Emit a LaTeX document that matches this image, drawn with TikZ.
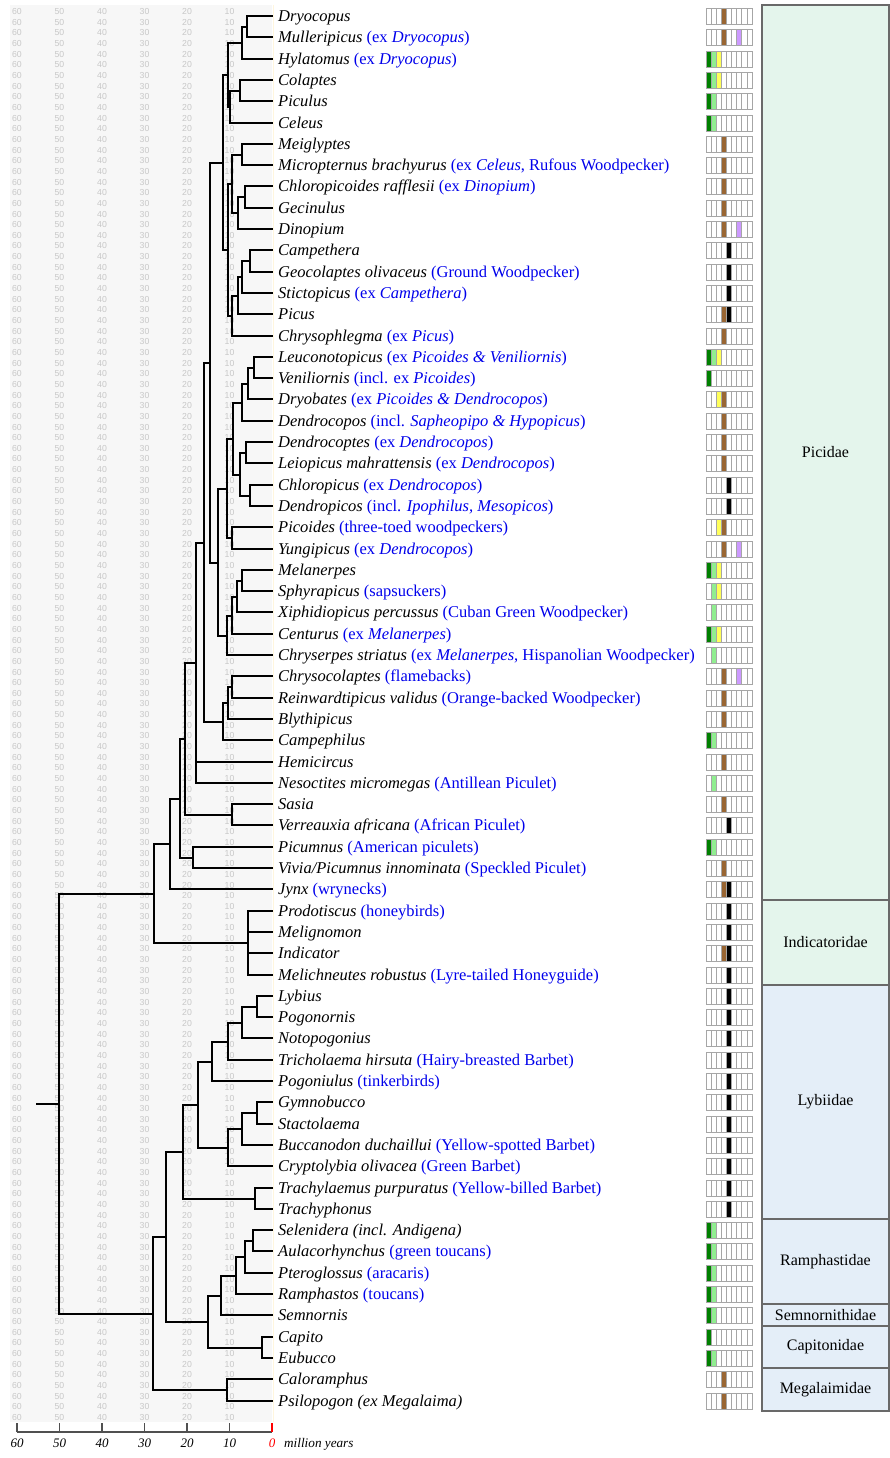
\documentclass[tikz,border=0pt]{standalone}
\usepackage{fontspec}
\setmainfont{Liberation Serif}
\newfontfamily\numfont{Liberation Sans}
\usetikzlibrary{calc}
\definecolor{tblue}{RGB}{0,0,235}
\definecolor{bggray}{RGB}{247,247,247}
\definecolor{numgray}{RGB}{200,200,200}
\definecolor{mint}{RGB}{228,245,236}
\definecolor{pale}{RGB}{228,238,248}
\definecolor{cellc1}{RGB}{0,128,0}
\definecolor{cellc2}{RGB}{144,238,144}
\definecolor{cellc3}{RGB}{255,255,90}
\definecolor{cellc4}{RGB}{153,102,51}
\definecolor{cellc5}{RGB}{0,0,0}
\definecolor{cellc7}{RGB}{204,153,255}
\definecolor{famline}{RGB}{105,105,105}
\definecolor{cream}{RGB}{255,246,222}
\definecolor{axisgray}{RGB}{80,80,80}
\newcommand\bl[1]{\textcolor{tblue}{\upshape #1}}
\newcommand\taxon[3]{%
  \pgfmathsetmacro\ty{-round(16+21.3*#1)}%
  \coordinate (L#1) at (272,\ty);
  \node[lab] (T#1) at (278,\ty-5.2) {#2};
  \foreach \c in {#3}{\fill[cellc\c] ({706+5.11*(\c-1)},\ty-8) rectangle ++(5.11,16);}
  \foreach \c in {1,...,9}{\draw[cellline] ({706+5.11*(\c-1)},\ty-8) rectangle ++(5.11,16);}
}
\newcommand\clade[4]{%
  \path let \p1=(#3), \p2=(#4), \n1={round((\y1+\y2)/2)} in coordinate (#1) at (#2,\n1);
  \draw[br] (#3) -| (#1) |- (#4);}
\newcommand\cladeP[5]{%
  \clade{#1}{#2}{#3}{#4}
  \foreach \m in {#5}{\draw[br] (\m) -| (#1);}}
\begin{document}
\begin{tikzpicture}[x=1pt,y=1pt,
  br/.style={line width=2pt,line cap=rect,black},
  lab/.style={anchor=base west,inner sep=0pt,font=\fontsize{16.5}{19}\selectfont\itshape},
  num/.style={inner sep=0pt,text=numgray,font=\numfont\fontsize{8.7}{9}\selectfont},
  cellline/.style={draw=gray!70,line width=0.6pt},
  famlab/.style={inner sep=0pt,font=\fontsize{16}{19}\selectfont},
  famrect/.style={draw=famline,line width=1.3pt},
  axl/.style={anchor=base,inner sep=0pt,font=\fontsize{13}{15}\selectfont\itshape}]
\useasboundingbox (0,0) rectangle (890,-1458);
% background with age grid
\fill[bggray] (10,-5) rectangle (272,-1422);
\foreach \k in {0,...,132}{
  \foreach \v in {60,50,40,30,20,10}{
    \node[num] at ({272-4.25*\v},{-(11.7+10.65*\k)}) {\v};}}
\draw[cream,line width=1pt] (273.5,-5) -- (273.5,-1422);
% taxa
\taxon{0}{Dryocopus}{4}
\taxon{1}{Mulleripicus \bl{(ex \textit{Dryocopus})}}{4,7}
\taxon{2}{Hylatomus \bl{(ex \textit{Dryocopus})}}{1,2,3}
\taxon{3}{Colaptes}{1,2,3}
\taxon{4}{Piculus}{1,2}
\taxon{5}{Celeus}{1,2}
\taxon{6}{Meiglyptes}{4}
\taxon{7}{Micropternus brachyurus \bl{(ex \textit{Celeus}, Rufous Woodpecker)}}{4}
\taxon{8}{Chloropicoides rafflesii \bl{(ex \textit{Dinopium})}}{4}
\taxon{9}{Gecinulus}{4}
\taxon{10}{Dinopium}{4,7}
\taxon{11}{Campethera}{5}
\taxon{12}{Geocolaptes olivaceus \bl{(Ground Woodpecker)}}{5}
\taxon{13}{Stictopicus \bl{(ex \textit{Campethera})}}{5}
\taxon{14}{Picus}{4,5}
\taxon{15}{Chrysophlegma \bl{(ex \textit{Picus})}}{4}
\taxon{16}{Leuconotopicus \bl{(ex \textit{Picoides \& Veniliornis})}}{1,2,3}
\taxon{17}{Veniliornis \bl{(incl. ex \textit{Picoides})}}{1}
\taxon{18}{Dryobates \bl{(ex \textit{Picoides \& Dendrocopos})}}{3,4}
\taxon{19}{Dendrocopos \bl{(incl. \textit{Sapheopipo \& Hypopicus})}}{4}
\taxon{20}{Dendrocoptes \bl{(ex \textit{Dendrocopos})}}{4}
\taxon{21}{Leiopicus mahrattensis \bl{(ex \textit{Dendrocopos})}}{4}
\taxon{22}{Chloropicus \bl{(ex \textit{Dendrocopos})}}{5}
\taxon{23}{Dendropicos \bl{(incl. \textit{Ipophilus, Mesopicos})}}{5}
\taxon{24}{Picoides \bl{(three-toed woodpeckers)}}{3,4}
\taxon{25}{Yungipicus \bl{(ex \textit{Dendrocopos})}}{4,7}
\taxon{26}{Melanerpes}{1,2,3}
\taxon{27}{Sphyrapicus \bl{(sapsuckers)}}{2,3}
\taxon{28}{Xiphidiopicus percussus \bl{(Cuban Green Woodpecker)}}{2}
\taxon{29}{Centurus \bl{(ex \textit{Melanerpes})}}{1,2,3}
\taxon{30}{Chryserpes striatus \bl{(ex \textit{Melanerpes}, Hispanolian Woodpecker)}}{2}
\taxon{31}{Chrysocolaptes \bl{(flamebacks)}}{4,7}
\taxon{32}{Reinwardtipicus validus \bl{(Orange-backed Woodpecker)}}{4}
\taxon{33}{Blythipicus}{4}
\taxon{34}{Campephilus}{1,2}
\taxon{35}{Hemicircus}{4}
\taxon{36}{Nesoctites micromegas \bl{(Antillean Piculet)}}{2}
\taxon{37}{Sasia}{4}
\taxon{38}{Verreauxia africana \bl{(African Piculet)}}{5}
\taxon{39}{Picumnus \bl{(American piculets)}}{1,2}
\taxon{40}{Vivia/Picumnus innominata \bl{(Speckled Piculet)}}{4}
\taxon{41}{Jynx \bl{(wrynecks)}}{4,5}
\taxon{42}{Prodotiscus \bl{(honeybirds)}}{5}
\taxon{43}{Melignomon}{5}
\taxon{44}{Indicator}{4,5}
\taxon{45}{Melichneutes robustus \bl{(Lyre-tailed Honeyguide)}}{5}
\taxon{46}{Lybius}{5}
\taxon{47}{Pogonornis}{5}
\taxon{48}{Notopogonius}{5}
\taxon{49}{Tricholaema hirsuta \bl{(Hairy-breasted Barbet)}}{5}
\taxon{50}{Pogoniulus \bl{(tinkerbirds)}}{5}
\taxon{51}{Gymnobucco}{5}
\taxon{52}{Stactolaema}{5}
\taxon{53}{Buccanodon duchaillui \bl{(Yellow-spotted Barbet)}}{5}
\taxon{54}{Cryptolybia olivacea \bl{(Green Barbet)}}{5}
\taxon{55}{Trachylaemus purpuratus \bl{(Yellow-billed Barbet)}}{5}
\taxon{56}{Trachyphonus}{5}
\taxon{57}{Selenidera (incl. Andigena)}{1,2}
\taxon{58}{Aulacorhynchus \bl{(green toucans)}}{1,2}
\taxon{59}{Pteroglossus \bl{(aracaris)}}{1,2}
\taxon{60}{Ramphastos \bl{(toucans)}}{1,2}
\taxon{61}{Semnornis}{1,2}
\taxon{62}{Capito}{1}
\taxon{63}{Eubucco}{1,2}
\taxon{64}{Caloramphus}{4}
\taxon{65}{Psilopogon (ex Megalaima)}{4}
% tree
\clade{a1}{247}{L0}{L1}
\clade{a2}{242}{a1}{L2}
\clade{b1}{240}{L3}{L4}
\clade{b2}{230}{b1}{L5}
\clade{nC}{228}{a2}{b2}
\clade{m1}{242}{L6}{L7}
\clade{m2}{245}{L8}{L9}
\clade{m3}{238}{m2}{L10}
\clade{m4}{232}{m1}{m3}
\clade{c1}{250}{L11}{L12}
\clade{c2}{242}{c1}{L13}
\clade{c3}{238}{c2}{L14}
\clade{c4}{232}{c3}{L15}
\clade{nD}{228}{m4}{c4}
\clade{nE}{223}{nC}{nD}
\clade{g1}{254}{L16}{L17}
\clade{g2}{248}{g1}{L18}
\clade{g3}{242}{g2}{L19}
\clade{h1}{246}{L20}{L21}
\clade{h2}{250}{L22}{L23}
\clade{h3}{240}{h1}{h2}
\clade{gt}{233}{g3}{h3}
\clade{py}{232}{L24}{L25}
\clade{ga}{227}{gt}{py}
\clade{e1}{242}{L26}{L27}
\clade{e2}{237}{e1}{L28}
\clade{e3}{232}{e2}{L29}
\clade{e4}{227}{e3}{L30}
\clade{nK}{218}{ga}{e4}
\clade{nF}{210}{nE}{nK}
\clade{j1}{232}{L31}{L32}
\clade{j2}{228}{j1}{L33}
\clade{j3}{223}{j2}{L34}
\clade{nI}{204}{nF}{j3}
\cladeP{nL}{196}{nI}{L36}{L35}
\clade{sv}{232}{L37}{L38}
\clade{nM}{185}{nL}{sv}
\clade{pv}{193}{L39}{L40}
\clade{nN}{180}{nM}{pv}
\clade{nO}{170}{nN}{L41}
\cladeP{ind}{248}{L42}{L45}{L43,L44}
\clade{nP}{154}{nO}{ind}
\clade{y1}{257}{L46}{L47}
\clade{y2}{242}{y1}{L48}
\clade{y3}{228}{y2}{L49}
\clade{y4}{212}{y3}{L50}
\clade{z1}{257}{L51}{L52}
\clade{z2}{242}{z1}{L53}
\clade{z3}{228}{z2}{L54}
\clade{yz}{198}{y4}{z3}
\clade{tr}{255}{L55}{L56}
\clade{lyb}{183}{yz}{tr}
\clade{r1}{253}{L57}{L58}
\clade{r2}{245}{r1}{L59}
\clade{r3}{236}{r2}{L60}
\clade{r4}{221}{r3}{L61}
\clade{cp}{262}{L62}{L63}
\clade{nS}{208}{r4}{cp}
\clade{nR}{166}{lyb}{nS}
\clade{meg}{227}{L64}{L65}
\clade{nQ}{153}{nR}{meg}
\clade{root}{59}{nP}{nQ}
\coordinate (stub) at ($(root)+(-22,0)$);
\draw[br] (stub) -- (root);
% families
\draw[famrect,fill=mint] (762,-5) rectangle (889,-900);
\draw[famrect,fill=mint] (762,-900) rectangle (889,-985);
\draw[famrect,fill=pale] (762,-985) rectangle (889,-1219);
\draw[famrect,fill=pale] (762,-1219) rectangle (889,-1304);
\draw[famrect,fill=pale] (762,-1304) rectangle (889,-1326);
\draw[famrect,fill=pale] (762,-1326) rectangle (889,-1368);
\draw[famrect,fill=pale] (762,-1368) rectangle (889,-1411);
\node[famlab] (fPic) at (825.5,-452.5) {Picidae};
\node[famlab] (fInd) at (825.5,-942.5) {Indicatoridae};
\node[famlab] (fLyb) at (825.5,-1102) {Lybiidae};
\node[famlab] (fRam) at (825.5,-1261.5) {Ramphastidae};
\node[famlab] (fSem) at (825.5,-1315) {Semnornithidae};
\node[famlab] (fCap) at (825.5,-1347) {Capitonidae};
\node[famlab] (fMeg) at (825.5,-1389.5) {Megalaimidae};
% axis
\coordinate (ax60) at (17,-1432);
\coordinate (ax0) at (272,-1432);
\draw[axisgray,line width=1.4pt] (ax60) -- (ax0);
\foreach \v in {60,50,40,30,20,10}{
  \draw[axisgray,line width=1.4pt] ({272-4.25*\v},-1432) -- ++(0,9);
  \node[axl] (axl\v) at ({272-4.25*\v},-1447) {\v};}
\draw[red,line width=1.4pt] (ax0) -- ++(0,9);
\node[axl,text=red] (axl0) at (272,-1447) {0};
\node[axl,anchor=base west,font=\fontsize{13.2}{15}\selectfont\itshape] (myr) at (284,-1447) {million years};
\end{tikzpicture}
\end{document}
